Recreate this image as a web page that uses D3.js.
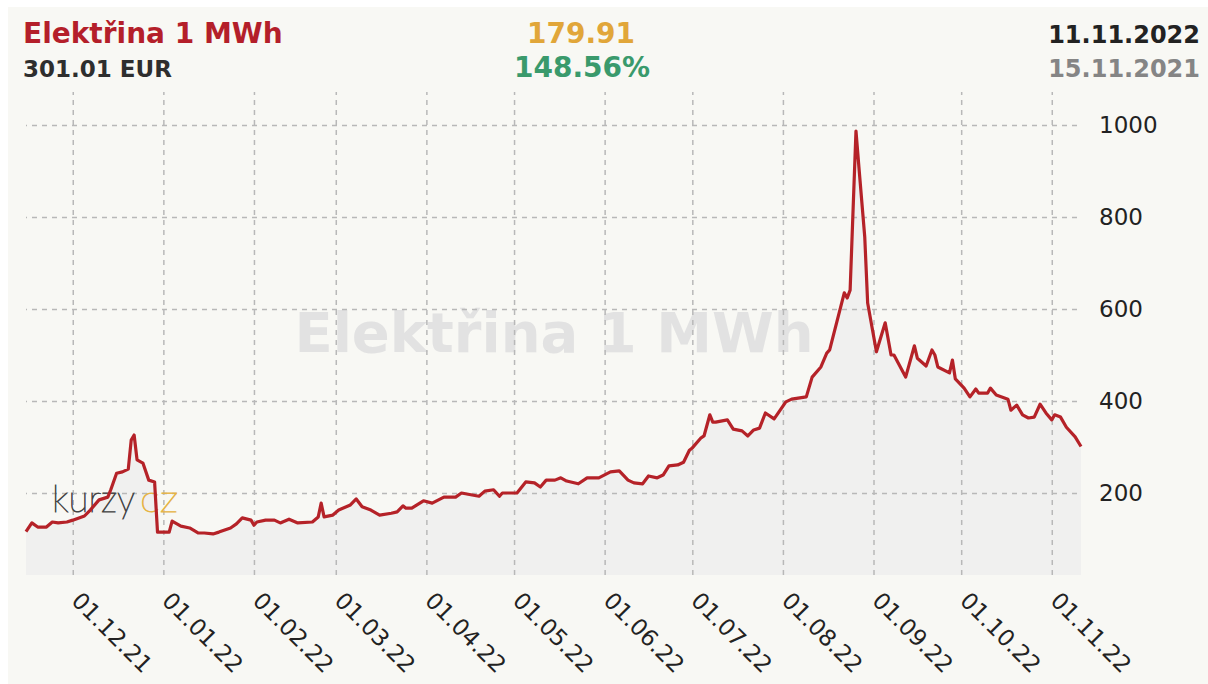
<!DOCTYPE html>
<html>
<head>
<meta charset="utf-8">
<script src="https://cdn.jsdelivr.net/npm/d3@7"></script>
<style>
  html, body { margin: 0; padding: 0; background: #ffffff; }
  text { font-family: "DejaVu Sans", Verdana, sans-serif; }
</style>
</head>
<body>
<div id="chart"></div>
<script>
// header texts
var titleText = "Elektřina 1 MWh";
var lastPriceText = "301.01 EUR";
var changeText = "179.91";
var changePctText = "148.56%";
var endDateText = "11.11.2022";
var startDateText = "15.11.2021";

// price series (EUR / MWh)
var dates = [
  "2021-11-15","2021-11-17","2021-11-19","2021-11-22","2021-11-24","2021-11-26","2021-11-29","2021-12-01",
  "2021-12-05","2021-12-07","2021-12-10","2021-12-13","2021-12-14","2021-12-16","2021-12-18","2021-12-20",
  "2021-12-21","2021-12-22","2021-12-23","2021-12-25","2021-12-27","2021-12-29","2021-12-30","2022-01-03",
  "2022-01-04","2022-01-07","2022-01-10","2022-01-13","2022-01-15","2022-01-18","2022-01-20","2022-01-24",
  "2022-01-26","2022-01-28","2022-01-31","2022-02-01","2022-02-02","2022-02-05","2022-02-08","2022-02-10",
  "2022-02-13","2022-02-16","2022-02-21","2022-02-23","2022-02-24","2022-02-25","2022-02-28","2022-03-02",
  "2022-03-06","2022-03-08","2022-03-10","2022-03-13","2022-03-16","2022-03-20","2022-03-22","2022-03-24",
  "2022-03-25","2022-03-27","2022-03-31","2022-04-03","2022-04-07","2022-04-11","2022-04-13","2022-04-19",
  "2022-04-21","2022-04-24","2022-04-26","2022-04-27","2022-05-02","2022-05-05","2022-05-08","2022-05-10",
  "2022-05-12","2022-05-15","2022-05-17","2022-05-19","2022-05-23","2022-05-26","2022-05-30","2022-06-03",
  "2022-06-06","2022-06-09","2022-06-11","2022-06-14","2022-06-16","2022-06-19","2022-06-21","2022-06-23",
  "2022-06-26","2022-06-28","2022-06-30","2022-07-01","2022-07-04","2022-07-05","2022-07-07","2022-07-08",
  "2022-07-09","2022-07-13","2022-07-15","2022-07-18","2022-07-20","2022-07-22","2022-07-24","2022-07-26",
  "2022-07-29","2022-08-02","2022-08-04","2022-08-09","2022-08-11","2022-08-14","2022-08-16","2022-08-17",
  "2022-08-22","2022-08-23","2022-08-24","2022-08-26","2022-08-27","2022-08-29","2022-08-30","2022-09-02",
  "2022-09-05","2022-09-07","2022-09-08","2022-09-12","2022-09-15","2022-09-16","2022-09-19","2022-09-21",
  "2022-09-22","2022-09-23","2022-09-27","2022-09-28","2022-09-29","2022-10-02","2022-10-04","2022-10-06",
  "2022-10-07","2022-10-10","2022-10-11","2022-10-13","2022-10-17","2022-10-18","2022-10-20","2022-10-22",
  "2022-10-24","2022-10-26","2022-10-28","2022-10-30","2022-11-01","2022-11-02","2022-11-04","2022-11-06",
  "2022-11-09","2022-11-11"
];
var prices = [
  116,135,126,126,137,135,137,141,
  150,163,185,191,207,243,246,252,
  315,326,272,265,228,224,115,115,
  139,128,124,113,113,111,115,124,
  133,146,141,130,137,141,141,135,
  143,135,137,148,178,148,152,163,
  174,187,170,163,152,156,159,172,
  167,167,183,178,191,191,200,193,
  204,207,193,200,200,224,222,213,
  228,228,233,226,220,233,233,246,
  248,228,222,220,237,233,239,259,
  261,267,293,298,320,324,370,354,
  354,359,339,335,324,337,341,374,
  361,398,404,409,452,474,504,511,
  635,624,641,987,909,757,613,507,
  570,500,500,452,520,493,476,511,
  500,474,461,489,448,428,409,426,
  417,417,428,413,404,380,391,370,
  363,365,393,374,359,370,365,343,
  322,301
];

// axis ticks
var yTicks = [200, 400, 600, 800, 1000];
var xStart = "2021-11-15";
var xEnd = "2022-11-11";

// layout
var W = 1208, H = 684;
var plot = {left: 26, right: 1081, top: 92, bottom: 575, gridRight: 1077};

var parse = d3.timeParse("%Y-%m-%d");
var data = dates.map((d, i) => ({date: parse(d), value: prices[i]}));

var x = d3.scaleTime()
  .domain([parse(xStart), parse(xEnd)])
  .range([plot.left, plot.right]);
var y = d3.scaleLinear()
  .domain([0, 1000])
  .range([585, 125]);

var svg = d3.select("#chart").append("svg")
  .attr("width", W)
  .attr("height", H);

// panel background
svg.append("rect")
  .attr("x", 8).attr("y", 7)
  .attr("width", W - 8).attr("height", H - 7)
  .attr("fill", "#f8f8f4");

// watermark
svg.append("text")
  .attr("x", 554).attr("y", 352)
  .attr("text-anchor", "middle")
  .style("font-size", "56px")
  .style("font-weight", "bold")
  .attr("fill", "#e2e2e2")
  .text(titleText);

// area under line
var area = d3.area()
  .x(d => x(d.date))
  .y0(plot.bottom)
  .y1(d => y(d.value));
svg.append("path")
  .datum(data)
  .attr("d", area)
  .attr("fill", "#f0f0ef");

// horizontal grid
svg.append("g")
  .attr("transform", "translate(" + plot.gridRight + ",0)")
  .call(d3.axisLeft(y).tickValues(yTicks).tickSize(plot.gridRight - plot.left).tickFormat(""))
  .call(g => g.select(".domain").remove())
  .call(g => g.selectAll("line")
    .attr("stroke", "#b8b8b8")
    .attr("stroke-width", 1.5)
    .attr("stroke-dasharray", "5,5"));

// vertical grid
svg.append("g")
  .attr("transform", "translate(0," + plot.bottom + ")")
  .call(d3.axisBottom(x).ticks(d3.timeMonth.every(1)).tickSize(-(plot.bottom - plot.top)).tickFormat(""))
  .call(g => g.select(".domain").remove())
  .call(g => g.selectAll("line")
    .attr("stroke", "#b8b8b8")
    .attr("stroke-width", 1.5)
    .attr("stroke-dasharray", "5,5"));

// logo (thin font, thickened a little with a stroke)
var logoFont = "'DejaVu Sans ExtraLight', Lato, 'Open Sans', sans-serif";
svg.append("text")
  .attr("x", 52).attr("y", 512)
  .style("font-family", logoFont)
  .style("font-weight", 200)
  .style("font-size", "38px")
  .attr("textLength", 83)
  .attr("lengthAdjust", "spacingAndGlyphs")
  .attr("fill", "#444")
  .attr("stroke", "#444")
  .attr("stroke-width", 0.9)
  .text("kurzy");
svg.append("text")
  .attr("x", 140).attr("y", 512)
  .style("font-family", logoFont)
  .style("font-weight", 200)
  .style("font-size", "38px")
  .attr("textLength", 38)
  .attr("lengthAdjust", "spacingAndGlyphs")
  .attr("fill", "#e6b445")
  .attr("stroke", "#e6b445")
  .attr("stroke-width", 0.9)
  .text("cz");

// price line
var line = d3.line()
  .x(d => x(d.date))
  .y(d => y(d.value));
svg.append("path")
  .datum(data)
  .attr("d", line)
  .attr("fill", "none")
  .attr("stroke", "#b52228")
  .attr("stroke-width", 3.2)
  .attr("stroke-linejoin", "round");

// y axis labels
svg.append("g")
  .attr("transform", "translate(1093,0)")
  .call(d3.axisRight(y).tickValues(yTicks).tickSize(0).tickPadding(6).tickFormat(d3.format("d")))
  .call(g => g.select(".domain").remove())
  .call(g => g.selectAll("text")
    .style("font-size", "23px")
    .style("font-family", "'DejaVu Sans', Verdana, sans-serif")
    .attr("fill", "#222"));

// x axis labels
var fmt = d3.timeFormat("%d.%m.%y");
svg.append("g")
  .attr("transform", "translate(0," + plot.bottom + ")")
  .call(d3.axisBottom(x).ticks(d3.timeMonth.every(1)).tickSize(0).tickFormat(fmt))
  .call(g => g.select(".domain").remove())
  .call(g => g.selectAll("text")
    .attr("y", 0).attr("dy", 0)
    .attr("text-anchor", "start")
    .attr("transform", "translate(-3,27) rotate(45)")
    .style("font-size", "23px")
    .style("font-family", "'DejaVu Sans', Verdana, sans-serif")
    .attr("fill", "#222"));

// header
var header = svg.append("g");
header.append("text")
  .attr("x", 23).attr("y", 43)
  .style("font-size", "28px").style("font-weight", "bold")
  .attr("fill", "#b41f2a")
  .text(titleText);
header.append("text")
  .attr("x", 23).attr("y", 77)
  .style("font-size", "23px").style("font-weight", "bold")
  .attr("fill", "#2e2e2e")
  .text(lastPriceText);
header.append("text")
  .attr("x", 581).attr("y", 43)
  .attr("text-anchor", "middle")
  .style("font-size", "28px").style("font-weight", "bold")
  .attr("fill", "#e1a639")
  .text(changeText);
header.append("text")
  .attr("x", 582).attr("y", 77)
  .attr("text-anchor", "middle")
  .style("font-size", "28px").style("font-weight", "bold")
  .attr("fill", "#3a9a6c")
  .text(changePctText);
header.append("text")
  .attr("x", 1200).attr("y", 43)
  .attr("text-anchor", "end")
  .style("font-size", "24px").style("font-weight", "bold")
  .attr("fill", "#222")
  .text(endDateText);
header.append("text")
  .attr("x", 1200).attr("y", 77)
  .attr("text-anchor", "end")
  .style("font-size", "24px").style("font-weight", "bold")
  .attr("fill", "#858585")
  .text(startDateText);
</script>
</body>
</html>
